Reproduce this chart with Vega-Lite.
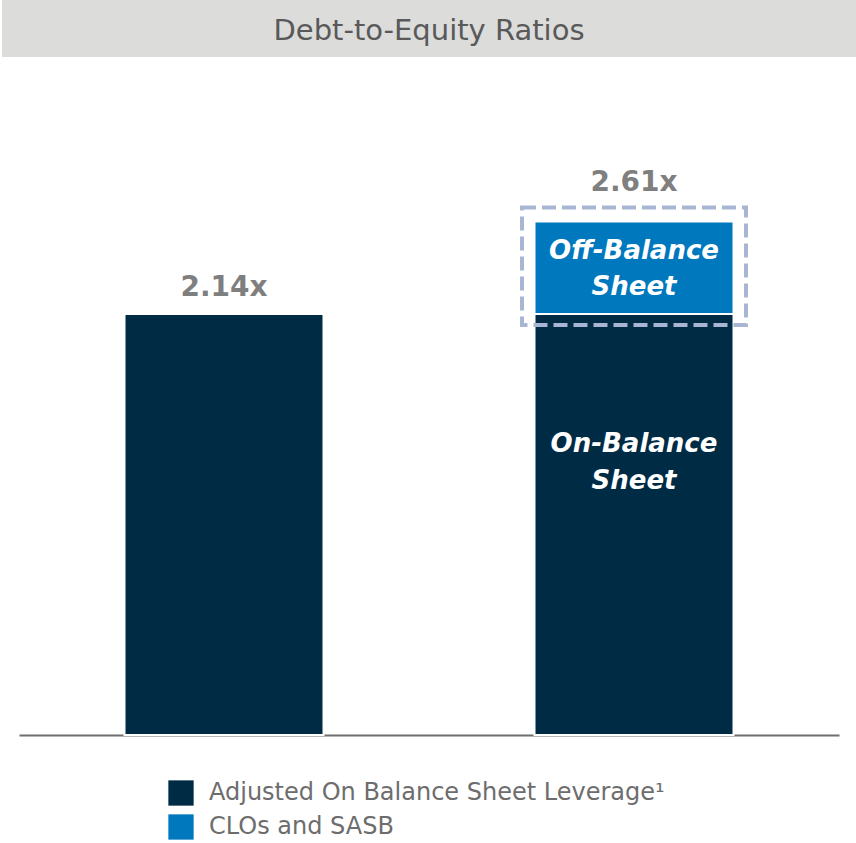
{
  "$schema": "https://vega.github.io/schema/vega-lite/v6.json",
  "padding": {"left": 2, "top": 0, "right": 0, "bottom": 0},
  "background": "white",
  "config": {"font": "DejaVu Sans", "view": {"stroke": null}},
  "datasets": {
    "bars": [
      {"group": "Reported", "segment": "Adjusted On Balance Sheet Leverage¹", "value": 2.14},
      {"group": "Including off-balance", "segment": "Adjusted On Balance Sheet Leverage¹", "value": 2.14},
      {"group": "Including off-balance", "segment": "CLOs and SASB", "value": 0.47}
    ],
    "totals": [
      {"group": "Reported", "total": 2.14, "label": "2.14x"},
      {"group": "Including off-balance", "total": 2.61, "label": "2.61x"}
    ],
    "inner": [
      {"group": "Including off-balance", "part": "on", "low": 0, "high": 2.14, "label": "On-Balance\nSheet"},
      {"group": "Including off-balance", "part": "off", "low": 2.14, "high": 2.61, "label": "Off-Balance\nSheet"}
    ]
  },
  "vconcat": [
    {
      "width": 854,
      "height": 57,
      "view": {"fill": "#DCDCDB", "stroke": null},
      "data": {"values": [{"title": "Debt-to-Equity Ratios"}]},
      "mark": {"type": "text", "fontSize": 29, "color": "#595959", "baseline": "middle", "align": "center", "dy": 2},
      "encoding": {"text": {"field": "title"}}
    },
    {
      "width": 820,
      "height": 669,
      "layer": [
        {
          "data": {"name": "bars"},
          "mark": {"type": "bar", "size": 199, "stroke": "white", "strokeWidth": 2},
          "encoding": {
            "x": {"field": "group", "type": "nominal", "sort": ["Reported", "Including off-balance"],
                  "scale": {"paddingInner": 0, "paddingOuter": 0},
                  "axis": {"title": null, "labels": false, "ticks": false, "domainColor": "#6F6F6F", "domainWidth": 2}},
            "y": {"field": "value", "type": "quantitative", "stack": "zero",
                  "scale": {"domain": [0, 3.4], "nice": false}, "axis": null},
            "color": {"field": "segment", "type": "nominal",
                      "scale": {"domain": ["Adjusted On Balance Sheet Leverage¹", "CLOs and SASB"], "range": ["#002B45", "#0078BE"]},
                      "legend": {"title": null, "orient": "none", "legendX": 166, "legendY": 780, "symbolType": "square",
                                 "symbolSize": 640, "symbolStrokeWidth": 0, "labelFontSize": 24, "labelColor": "#6D6D6D",
                                 "labelFont": "DejaVu Sans", "rowPadding": 8, "labelOffset": 15, "labelLimit": 600}},
            "order": {"field": "segment"}
          }
        },
        {
          "data": {"name": "inner"},
          "transform": [{"filter": "datum.part == 'off'"}],
          "mark": {"type": "bar", "size": 224, "fill": null, "fillOpacity": 0, "stroke": "#A8B6D4", "strokeWidth": 4,
                   "strokeDash": [14, 6], "yOffset": -14, "y2Offset": 11},
          "encoding": {
            "x": {"field": "group", "type": "nominal", "sort": ["Reported", "Including off-balance"]},
            "y": {"field": "high", "type": "quantitative"},
            "y2": {"field": "low"}
          }
        },
        {
          "data": {"name": "totals"},
          "transform": [{"filter": "datum.group == 'Reported'"}],
          "mark": {"type": "text", "fontSize": 28, "fontWeight": "bold", "color": "#7F7F7F", "dy": -18, "baseline": "alphabetic"},
          "encoding": {
            "x": {"field": "group", "type": "nominal", "sort": ["Reported", "Including off-balance"]},
            "y": {"field": "total", "type": "quantitative"},
            "text": {"field": "label"}
          }
        },
        {
          "data": {"name": "totals"},
          "transform": [{"filter": "datum.group != 'Reported'"}],
          "mark": {"type": "text", "fontSize": 28, "fontWeight": "bold", "color": "#7F7F7F", "dy": -30, "baseline": "alphabetic"},
          "encoding": {
            "x": {"field": "group", "type": "nominal", "sort": ["Reported", "Including off-balance"]},
            "y": {"field": "total", "type": "quantitative"},
            "text": {"field": "label"}
          }
        },
        {
          "data": {"name": "inner"},
          "transform": [{"filter": "datum.part == 'off'"}],
          "mark": {"type": "text", "fontSize": 26, "fontWeight": "bold", "fontStyle": "italic", "color": "white",
                   "lineBreak": "\n", "lineHeight": 36, "baseline": "top", "dy": 17},
          "encoding": {
            "x": {"field": "group", "type": "nominal", "sort": ["Reported", "Including off-balance"]},
            "y": {"field": "high", "type": "quantitative"},
            "text": {"field": "label"}
          }
        },
        {
          "data": {"name": "inner"},
          "transform": [{"filter": "datum.part == 'on'"}],
          "mark": {"type": "text", "fontSize": 26, "fontWeight": "bold", "fontStyle": "italic", "color": "white",
                   "lineBreak": "\n", "lineHeight": 37, "baseline": "top", "dy": 117},
          "encoding": {
            "x": {"field": "group", "type": "nominal", "sort": ["Reported", "Including off-balance"]},
            "y": {"field": "high", "type": "quantitative"},
            "text": {"field": "label"}
          }
        }
      ]
    }
  ],
  "spacing": 9,
  "center": true
}
